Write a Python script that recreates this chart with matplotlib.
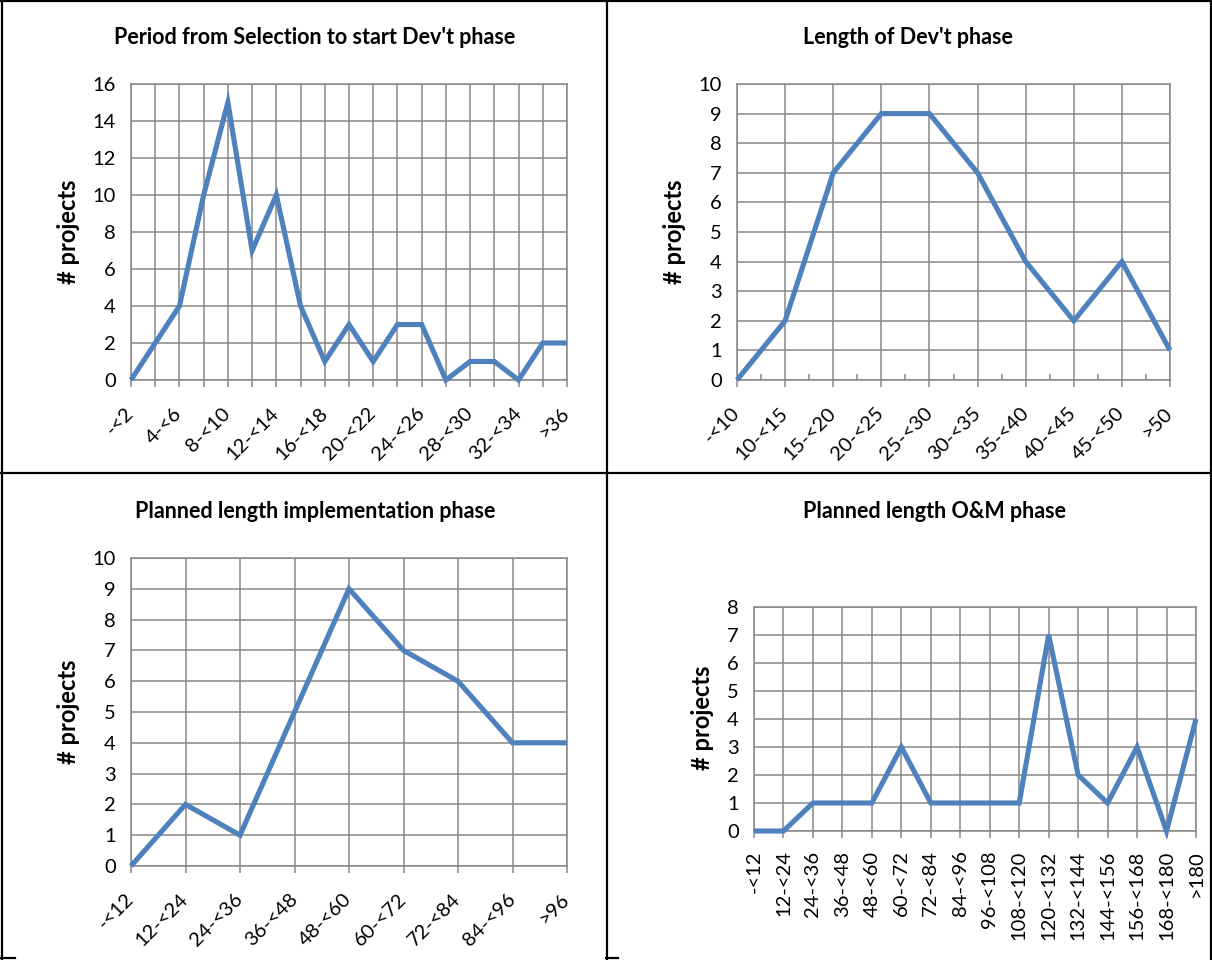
import matplotlib
matplotlib.use("Agg")
import matplotlib.pyplot as plt
from matplotlib.lines import Line2D
from matplotlib.ticker import MultipleLocator

plt.rcParams['font.family'] = ['Lato', 'DejaVu Sans']

# ---------------- data ----------------
title1 = "Period from Selection to start Dev't phase"
cats1 = ["-<2", "2-<4", "4-<6", "6-<8", "8-<10", "10-<12", "12-<14", "14-<16",
         "16-<18", "18-<20", "20-<22", "22-<24", "24-<26", "26-<28", "28-<30",
         "30-<32", "32-<34", "34-<36", ">36"]
vals1 = [0, 2, 4, 10, 15, 7, 10, 4, 1, 3, 1, 3, 3, 0, 1, 1, 0, 2, 2]

title2 = "Length of Dev't phase"
cats2 = ["-<10", "10-<15", "15-<20", "20-<25", "25-<30", "30-<35", "35-<40",
         "40-<45", "45-<50", ">50"]
vals2 = [0, 2, 7, 9, 9, 7, 4, 2, 4, 1]

title3 = "Planned length implementation phase"
cats3 = ["-<12", "12-<24", "24-<36", "36-<48", "48-<60", "60-<72", "72-<84",
         "84-<96", ">96"]
vals3 = [0, 2, 1, 5, 9, 7, 6, 4, 4]

title4 = "Planned length O&M phase"
cats4 = ["-<12", "12-<24", "24-<36", "36-<48", "48-<60", "60-<72", "72-<84",
         "84-<96", "96-<108", "108-<120", "120-<132", "132-<144", "144-<156",
         "156-<168", "168-<180", ">180"]
vals4 = [0, 0, 1, 1, 1, 3, 1, 1, 1, 1, 7, 2, 1, 3, 0, 4]

ylabel = "# projects"

# ---------------- layout ----------------
W, H = 1212, 960
fig = plt.figure(figsize=(W / 100, H / 100), dpi=100)
fig.patch.set_facecolor('white')

LINE = '#4F81BD'
GRID = '#878787'
TICK_FS = 14.5


def px_axes(l, t, r, b):
    return fig.add_axes([l / W, 1 - b / H, (r - l) / W, (b - t) / H])


def draw(ax, cats, vals, ymax, ystep, label_step, rot, minor=False):
    n = len(cats)
    x = list(range(n))
    ax.plot(x, vals, color=LINE, lw=3.7, solid_joinstyle='miter',
            solid_capstyle='butt', zorder=3, clip_on=False)
    ax.set_xlim(0, n - 1)
    ax.set_ylim(0, ymax)
    ax.set_yticks(range(0, ymax + 1, ystep))
    ax.set_xticks(x)
    labels = [c if i % label_step == 0 else "" for i, c in enumerate(cats)]
    if rot == 45:
        ax.set_xticklabels(labels, rotation=45, ha='right', va='center',
                           rotation_mode='anchor', fontsize=TICK_FS)
        ax.tick_params(axis='x', pad=17)
        for lab in ax.get_xticklabels():
            lab.set_x(lab.get_position()[0])
    else:
        ax.set_xticklabels(labels, rotation=90, ha='center', va='top',
                           fontsize=TICK_FS)
        ax.tick_params(axis='x', pad=9)
    ax.tick_params(axis='x', length=5, width=1.1, color=GRID, direction='out')
    ax.tick_params(axis='y', length=0, pad=11, labelsize=TICK_FS)
    if minor:
        ax.xaxis.set_minor_locator(MultipleLocator(0.5))
        ax.tick_params(axis='x', which='minor', length=4, width=1.1,
                       color=GRID, direction='in')
    ax.grid(True, color=GRID, lw=1.1)
    ax.set_axisbelow(True)
    for s in ax.spines.values():
        s.set_color(GRID)
        s.set_linewidth(1.1)


ax1 = px_axes(131, 84, 567, 380)
draw(ax1, cats1, vals1, 16, 2, 2, 45)
ax2 = px_axes(737, 84, 1170, 380)
draw(ax2, cats2, vals2, 10, 1, 1, 45, minor=True)
ax3 = px_axes(131, 558, 567, 866)
draw(ax3, cats3, vals3, 10, 1, 1, 45)
ax4 = px_axes(754, 607, 1196, 831)
draw(ax4, cats4, vals4, 8, 1, 1, 90)

# titles and y labels
for (tx, ty, t) in [(315, 37, title1), (908, 37, title2),
                    (315, 511, title3), (934, 511, title4)]:
    fig.text(tx / W, 1 - ty / H, t, ha='center', va='center',
             fontsize=15.5, fontweight='bold')
for (lx, ly) in [(68, 232), (674, 232), (68, 712), (703, 718)]:
    fig.text(lx / W, 1 - ly / H, ylabel, ha='center', va='center',
             rotation=90, fontsize=17, fontweight='bold')

# table borders
def seg(x0, y0, x1, y1, lw=1.6):
    fig.add_artist(Line2D([x0 / W, x1 / W], [1 - y0 / H, 1 - y1 / H],
                          color='black', lw=lw, transform=fig.transFigure))

seg(0, 1, W, 1)
seg(2, 0, 2, H)
seg(1210.5, 0, 1210.5, H)
seg(606.5, 0, 606.5, H)
seg(0, 473, W, 473)
seg(0, 958, 15, 958)
seg(606, 958, 618, 958)

fig.savefig('out.png', dpi=100, facecolor='white')
